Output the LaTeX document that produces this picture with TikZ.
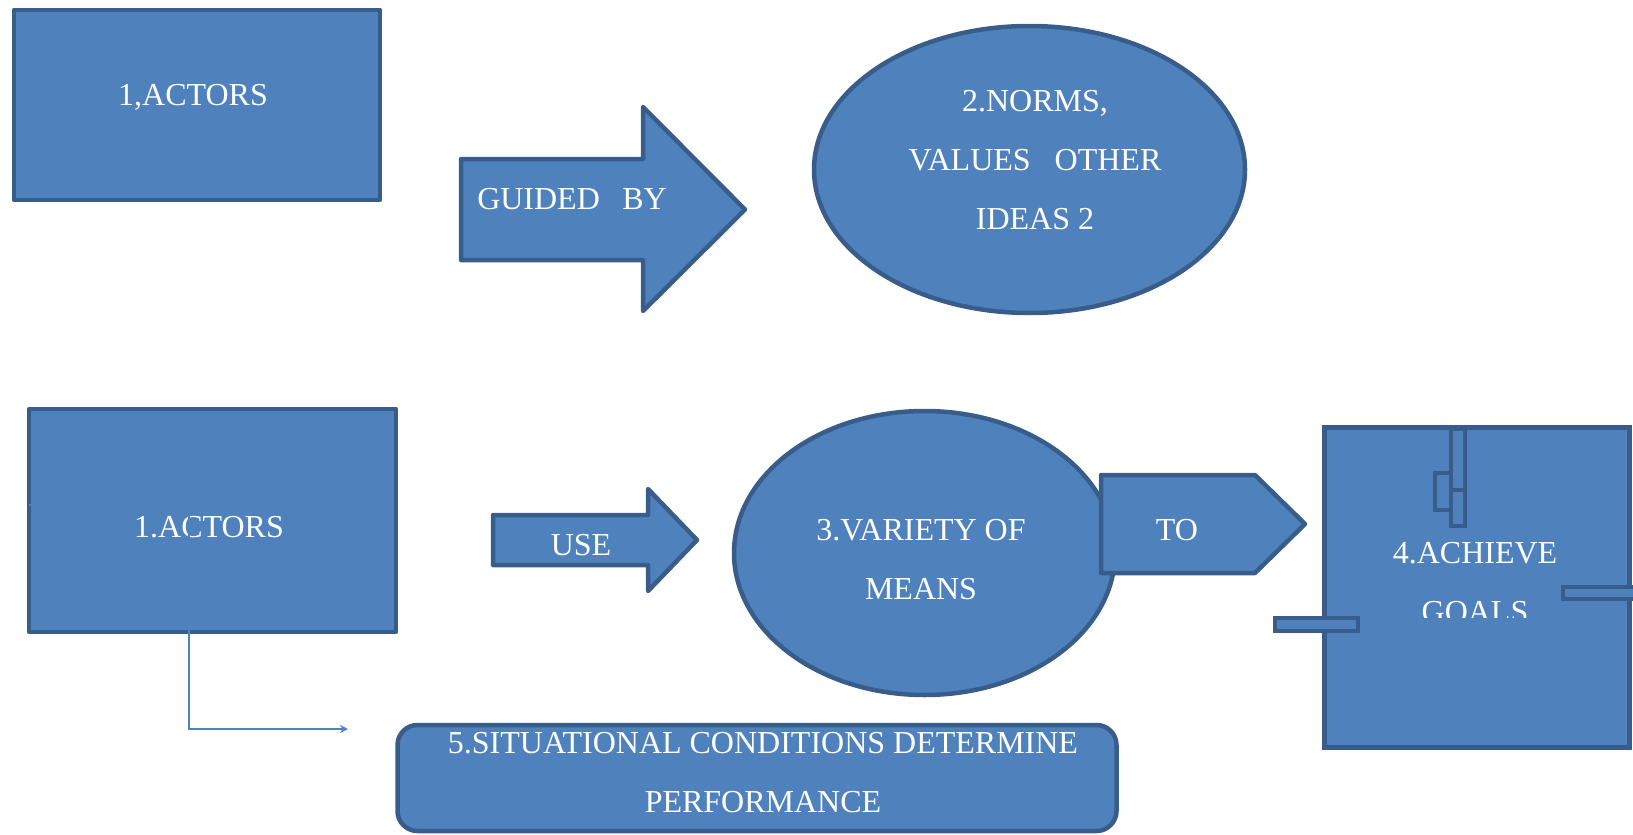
\documentclass[tikz,border=0pt]{standalone}
\usepackage{fontspec}
\setmainfont{Liberation Serif}
\usepackage{tikz}
\usetikzlibrary{shapes.geometric}
\usetikzlibrary{arrows.meta}
\definecolor{fillblue}{HTML}{4F81BD}
\definecolor{edgeblue}{HTML}{385D8A}
\tikzset{
  shapebox/.style={draw=edgeblue, fill=fillblue, line width=4.5pt, line join=round, inner sep=0pt},
  lbl/.style={text=white, font=\fontsize{32}{59}\selectfont, align=center, inner sep=0pt},
  link/.style={draw=fillblue, line width=1.6pt, -{Stealth[length=8pt,width=8pt]}}
}
\newcommand{\blockarrow}[7]{ \draw[shapebox] (#1,#2) -- (#4,#2) -- (#4,#5) -- (#7,{(#2+#3)/2}) -- (#4,#6) -- (#4,#3) -- (#1,#3) -- cycle;}
\newcommand{\glitchbox}[4]{ \draw[shapebox, line width=4pt, line join=miter] ( #1 , #2 ) rectangle ( #3 , #4 );}

\begin{document}
\begin{tikzpicture}[x=1pt, y=-1pt]
    \useasboundingbox (0,0) rectangle (1633,835);
    % top row
    \node[shapebox, rectangle, minimum width=366pt, minimum height=190pt] (actorsA) at (197,105) {};
    \node[lbl] (actorsAtext) at (193,97) {1,ACTORS};
    \blockarrow{461}{159}{260}{643}{107}{311}{745}
    \node[lbl] (guided) at (572,199) {GUIDED\hspace{0.7em}BY};
    \node[shapebox, ellipse, minimum width=431pt, minimum height=287pt] (norms) at (1029.5,169.5) {};
    \node[lbl] (normstext) at (1035,160) {2.NORMS,\\VALUES\hspace{0.75em}OTHER\\IDEAS 2};
    % bottom row
    \node[shapebox, rectangle, minimum width=367pt, minimum height=223pt] (actorsB) at (212.5,520.5) {};
    \node[lbl] (actorsBtext) at (209,527) {1.ACTORS};
    \blockarrow{493}{515}{565}{648}{489}{591}{697}
    \node[lbl] (use) at (581,545) {USE};
    \node[shapebox, ellipse, minimum width=381pt, minimum height=284pt] (means) at (924.5,553) {};
    \node[lbl] (meanstext) at (921,560) {3.VARIETY OF\\MEANS};
    \draw[shapebox] (1101,475) -- (1255,475) -- (1305,524) -- (1255,573) -- (1101,573) -- cycle;
    \node[lbl] (to) at (1177,530) {TO};
    \node[shapebox, rectangle, line width=5.5pt, line join=miter, minimum width=305pt, minimum height=320pt] (goals) at (1477,587.5) {};
    \glitchbox{1451}{429}{1465}{490}
    \glitchbox{1451}{490}{1465}{526}
    \draw[edgeblue, line width=4pt] (1451,473) -- (1435,473) -- (1435,510) -- (1451,510);
    \glitchbox{1563}{587}{1640}{599}
    \glitchbox{1275}{618}{1358}{631}
    \begin{scope}
        \clip (1326,430) rectangle (1628,617);
        \node[lbl] (goalstext) at (1475,583) {4.ACHIEVE\\GOALS};
    \end{scope}
    % situational conditions
    \node[shapebox, rectangle, rounded corners=20pt, minimum width=719pt, minimum height=106pt] (cond) at (757,778) {};
    \node[lbl] (condtext) at (763,773) {5.SITUATIONAL CONDITIONS DETERMINE\\PERFORMANCE};
    \coordinate (lstart) at (29,505);
    \coordinate (bend) at (189,729);
    \coordinate (lend) at (348,729);
    \draw[link] (lstart) -| (bend) -- (lend);
\end{tikzpicture}
\end{document}
